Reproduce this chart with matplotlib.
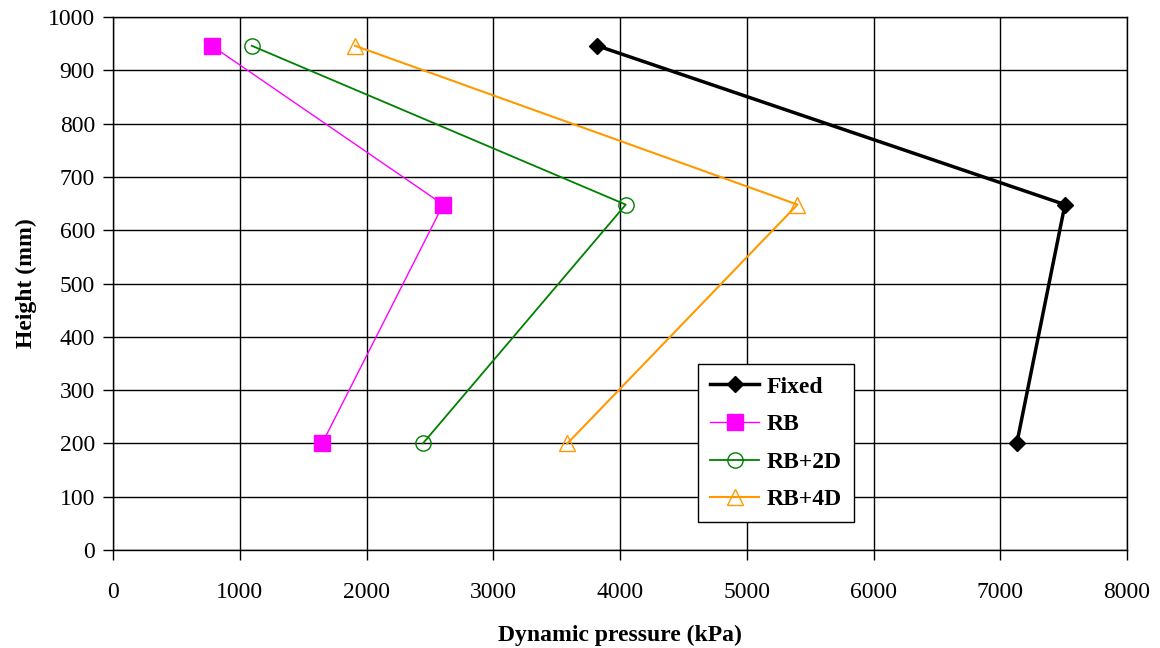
import matplotlib.pyplot as plt

# pressure readings (kPa) at three gauge heights (mm)
height = [946, 648, 200]
fixed = [3820, 7510, 7130]
rb = [780, 2605, 1650]
rb_2d = [1095, 4045, 2445]
rb_4d = [1910, 5400, 3585]

plt.rcParams['font.family'] = ['Liberation Serif', 'DejaVu Serif']

fig = plt.figure(figsize=(11.6, 6.48), dpi=100)
ax = fig.add_axes([0.0974, 0.1512, 0.8742, 0.8226])

ax.plot(fixed, height, color='black', lw=2.5, marker='D', ms=8, label='Fixed', zorder=5)
ax.plot(rb, height, color='#ff00ff', lw=1.0, marker='s', ms=12, label='RB', zorder=4)
ax.plot(rb_2d, height, color='green', lw=1.3, marker='o', ms=11,
        mfc='none', mew=1.0, label='RB+2D', zorder=4)
ax.plot(rb_4d, height, color='#ff9900', lw=1.5, marker='^', ms=12,
        mfc='none', mew=1.0, label='RB+4D', zorder=4)

ax.set_xlim(0, 8000)
ax.set_ylim(0, 1000)
ax.set_xticks(range(0, 8001, 1000))
ax.set_yticks(range(0, 1001, 100))
ax.grid(True, color='black', lw=1.0)
ax.set_axisbelow(True)
for s in ax.spines.values():
    s.set_color('black')
    s.set_linewidth(1.0)
ax.tick_params(labelsize=17, length=7, width=1.0, direction='out', pad=6)
ax.tick_params(axis='x', pad=16)

ax.set_xlabel('Dynamic pressure (kPa)', fontsize=17, fontweight='bold', labelpad=16)
ax.set_ylabel('Height (mm)', fontsize=17, fontweight='bold', labelpad=8)

# legend box sits inside the plot, lower right of centre
leg = ax.legend(loc='lower left', bbox_to_anchor=(0.577, 0.052),
                prop={'size': 17, 'weight': 'bold'}, frameon=True, fancybox=False,
                edgecolor='black', framealpha=1, borderpad=0.5, labelspacing=0.68,
                handlelength=2.1, handletextpad=0.3, borderaxespad=0)
leg.get_frame().set_linewidth(1.0)

fig.savefig('out.png', dpi=100)
